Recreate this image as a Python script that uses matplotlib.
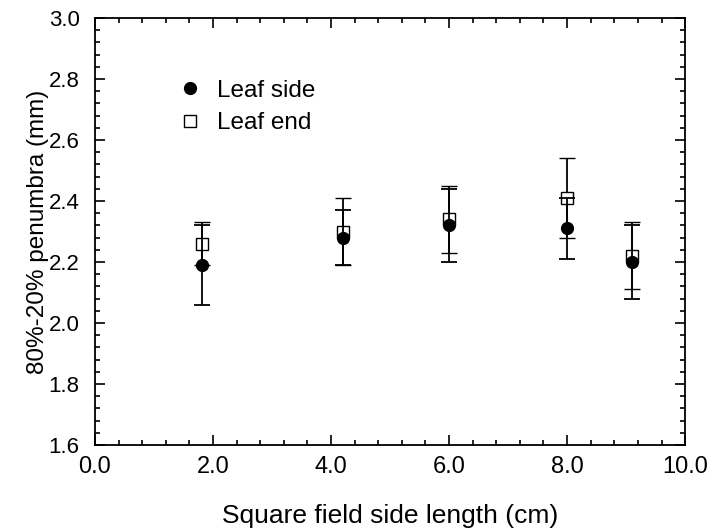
import matplotlib
matplotlib.use("Agg")
import matplotlib.pyplot as plt
from matplotlib.ticker import MultipleLocator, FormatStrFormatter
from matplotlib.lines import Line2D

plt.rcParams['font.family'] = ['Liberation Sans', 'DejaVu Sans']

x_side = [1.81, 4.2, 6.0, 8.0, 9.1]
y_side = [2.19, 2.28, 2.32, 2.31, 2.20]
e_side = [0.13, 0.09, 0.12, 0.10, 0.12]

x_end = [1.81, 4.2, 6.0, 8.0, 9.1]
y_end = [2.26, 2.30, 2.34, 2.41, 2.22]
e_end = [0.07, 0.11, 0.11, 0.13, 0.11]

fig = plt.figure(figsize=(7.11, 5.31), dpi=100)
ax = fig.add_axes([0.1336, 0.162, 0.83, 0.804])

ax.errorbar(x_end, y_end, yerr=e_end, fmt='s', color='black', mfc='white', mec='black',
            ms=8, mew=1.0, ecolor='black', elinewidth=1.3, capsize=6, capthick=1.3,
            zorder=2)
ax.errorbar(x_side, y_side, yerr=e_side, fmt='o', color='black', mfc='black', mec='black',
            ms=8.5, ecolor='black', elinewidth=1.3, capsize=6, capthick=1.3,
            zorder=3)

ax.set_xlim(0, 10)
ax.set_ylim(1.6, 3.0)
ax.xaxis.set_major_locator(MultipleLocator(2))
ax.xaxis.set_minor_locator(MultipleLocator(0.4))
ax.yaxis.set_major_locator(MultipleLocator(0.2))
ax.yaxis.set_minor_locator(MultipleLocator(0.04))
ax.xaxis.set_major_formatter(FormatStrFormatter('%.1f'))
ax.yaxis.set_major_formatter(FormatStrFormatter('%.1f'))
ax.tick_params(which='both', direction='in', top=True, right=True, width=1.2)
ax.tick_params(axis='x', which='major', labelsize=17, pad=8)
ax.tick_params(axis='y', which='major', labelsize=16, pad=11)
ax.tick_params(which='major', length=7)
ax.tick_params(which='minor', length=3.5)
for s in ax.spines.values():
    s.set_linewidth(1.3)

ax.set_xlabel('Square field side length (cm)', fontsize=19, labelpad=19)
ax.set_ylabel('80%-20% penumbra (mm)', fontsize=17.5, labelpad=0)

hs = [Line2D([], [], marker='o', ls='', color='black', ms=8.5),
      Line2D([], [], marker='s', ls='', mfc='white', mec='black', ms=8)]
ax.legend(hs, ['Leaf side', 'Leaf end'], loc='upper left', bbox_to_anchor=(0.12, 0.855),
          frameon=False, fontsize=17.5, handletextpad=0.1, labelspacing=0.42,
          borderaxespad=0, borderpad=0)

fig.savefig('out.png', dpi=100)
